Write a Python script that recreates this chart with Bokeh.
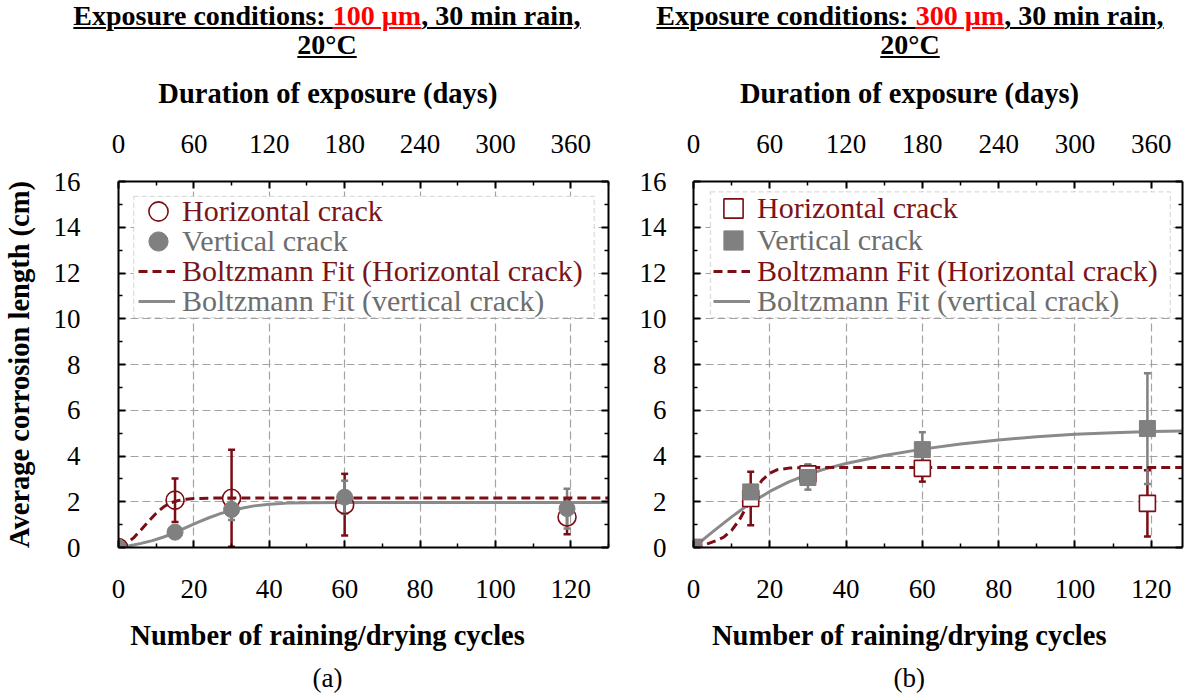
from bokeh.plotting import figure
from bokeh.models import (Range1d, LinearAxis, FixedTicker, Legend, LegendItem, Title,
                          Whisker, TeeHead, ColumnDataSource, BoxAnnotation, Div,
                          CustomJSTickFormatter)
from bokeh.layouts import row, column
from bokeh.embed import file_html
from bokeh.resources import INLINE

# ---------------- data ----------------
cycles = [0, 15, 30, 60, 119]

# (a) 100 µm
h_mean_a = [0.0, 2.07, 2.15, 1.87, 1.33]
h_err_a = [0.0, 0.95, 2.12, 1.35, 0.75]
v_mean_a = [0.0, 0.67, 1.66, 2.2, 1.7]
v_err_a = [0.0, 0.1, 0.46, 0.72, 0.87]

fit_h_x_a = [0, 2, 4, 6, 8, 10, 12, 14, 16, 18, 20, 25, 30, 130]
fit_h_y_a = [0.05, 0.17, 0.42, 0.78, 1.15, 1.5, 1.78, 1.96, 2.06, 2.11, 2.14, 2.16, 2.16, 2.16]
fit_v_x_a = [0, 3, 6, 9, 12, 15, 18, 21, 24, 27, 30, 33, 36, 40, 45, 50, 60, 130]
fit_v_y_a = [0.0, 0.08, 0.18, 0.3, 0.46, 0.65, 0.88, 1.1, 1.3, 1.48, 1.62, 1.73, 1.82, 1.89, 1.94, 1.96, 1.97, 1.97]

# (b) 300 µm
h_mean_b = [0.0, 2.14, 3.22, 3.46, 1.93]
h_err_b = [0.0, 1.17, 0.4, 0.58, 1.45]
v_mean_b = [0.0, 2.43, 3.06, 4.28, 5.2]
v_err_b = [0.0, 0.3, 0.53, 0.76, 2.42]

fit_h_x_b = [0, 2, 4, 6, 8, 10, 12, 14, 16, 18, 20, 22, 25, 30, 130]
fit_h_y_b = [0.0, 0.08, 0.18, 0.3, 0.46, 0.75, 1.2, 1.8, 2.45, 2.95, 3.25, 3.4, 3.47, 3.5, 3.5]
fit_v_x_b = [0, 5, 10, 15, 20, 25, 30, 35, 40, 50, 60, 70, 80, 90, 100, 110, 120, 130]
fit_v_y_b = [0.0, 0.68, 1.34, 1.95, 2.45, 2.87, 3.2, 3.46, 3.67, 4.02, 4.3, 4.52, 4.7, 4.84, 4.95, 5.02, 5.07, 5.1]

# ticks
x_ticks = [0, 20, 40, 60, 80, 100, 120]
x_minor_ticks = [10, 30, 50, 70, 90, 110, 130]
day_ticks = [0, 60, 120, 180, 240, 300, 360]
day_minor_ticks = [30, 90, 150, 210, 270, 330, 390]
y_ticks = [0, 2, 4, 6, 8, 10, 12, 14, 16]
y_minor_ticks = [1, 3, 5, 7, 9, 11, 13, 15]
days_per_cycle = 3

# texts
title_a = ["Exposure conditions: ", "100 µm", ", 30 min rain,", "20°C"]
title_b = ["Exposure conditions: ", "300 µm", ", 30 min rain,", "20°C"]
x_title = "Number of raining/drying cycles"
top_title = "Duration of exposure (days)"
y_title = "Average corrosion length (cm)"
legend_labels = ["Horizontal crack", "Vertical crack",
                 "Boltzmann Fit (Horizontal crack)", "Boltzmann Fit (vertical crack)"]
captions = ["(a)", "(b)"]

# ---------------- styles ----------------
FONT = "Liberation Serif"
RED = "#7b0d14"
RED_TXT = "#7a1418"
GREY = "#808080"
GREY_LINE = "#8a8a8a"
GREY_TXT = "#6e6e6e"
GRID = "#a3a3a3"
NBSP = "\u00a0"

DIV_H = 62
FIG_H = 637
MB_TOP = 119
MB_BOTTOM = 152
FRAME_H = 366


def style_axis(ax, ticker, standoff, labels=True):
    ax.ticker = ticker
    ax.axis_line_width = 2
    ax.axis_line_color = "black"
    ax.major_tick_in = 7
    ax.major_tick_out = 0
    ax.minor_tick_in = 4
    ax.minor_tick_out = 0
    ax.major_tick_line_width = 2
    ax.minor_tick_line_width = 1.5
    ax.major_tick_line_color = "black"
    ax.minor_tick_line_color = "black"
    ax.major_label_text_font = FONT
    ax.major_label_text_font_size = "27px"
    ax.major_label_text_color = "black"
    ax.major_label_standoff = standoff
    ax.axis_label_text_font = FONT
    ax.axis_label_text_font_style = "bold"
    ax.axis_label_text_font_size = "28.5px"
    ax.axis_label_text_color = "black"
    if not labels:
        ax.formatter = CustomJSTickFormatter(code="return ''")
        ax.major_label_standoff = 0


def build_panel(cfg):
    x_end = cfg["x_end"]
    p = figure(width=cfg["width"], height=FIG_H,
               x_range=Range1d(0, x_end), y_range=Range1d(0, 16),
               output_backend="svg", toolbar_location=None,
               min_border_left=cfg["mbl"], min_border_right=cfg["mbr"],
               min_border_top=MB_TOP, min_border_bottom=MB_BOTTOM,
               outline_line_color=None, background_fill_color="white",
               border_fill_color="white")
    p.extra_x_ranges = {"days": Range1d(0, x_end * days_per_cycle)}

    xt = FixedTicker(ticks=x_ticks, minor_ticks=x_minor_ticks)
    yt = FixedTicker(ticks=y_ticks, minor_ticks=y_minor_ticks)
    dt = FixedTicker(ticks=day_ticks, minor_ticks=day_minor_ticks)

    bottom = p.xaxis[0]
    style_axis(bottom, xt, 32)
    bottom.axis_label = x_title + NBSP * cfg["nbsp"]
    bottom.axis_label_standoff = 19
    left = p.yaxis[0]
    style_axis(left, yt, cfg["ylab_standoff"])
    if cfg["show_ytitle"]:
        left.axis_label = y_title
        left.axis_label_standoff = 16
    top = LinearAxis(x_range_name="days")
    style_axis(top, dt, 29)
    top.axis_label = top_title + NBSP * cfg["nbsp"]
    top.axis_label_standoff = 23
    p.add_layout(top, "above")
    right = LinearAxis()
    style_axis(right, FixedTicker(ticks=y_ticks, minor_ticks=y_minor_ticks), 0, labels=False)
    p.add_layout(right, "right")

    p.add_layout(Title(text=cfg["caption"], align="left", offset=cfg["cap_offset"],
                       text_font=FONT, text_font_size="27px", text_font_style="normal",
                       text_color="black", standoff=14), "below")

    for g, t in ((p.xgrid[0], x_ticks), (p.ygrid[0], y_ticks)):
        g.ticker = FixedTicker(ticks=t)
        g.grid_line_color = GRID
        g.grid_line_dash = "8 4"
        g.grid_line_width = 1.2

    h_mean, h_err, v_mean, v_err = cfg["h_mean"], cfg["h_err"], cfg["v_mean"], cfg["v_err"]
    src_h = ColumnDataSource(dict(x=cycles, y=h_mean))
    src_v = ColumnDataSource(dict(x=cycles, y=v_mean))
    eh = [(c, m - e, m + e) for c, m, e in zip(cycles, h_mean, h_err) if e > 0]
    ev = [(c, m - e, m + e) for c, m, e in zip(cycles, v_mean, v_err) if e > 0]
    src_eh = ColumnDataSource(dict(x=[a for a, _, _ in eh], lo=[b for _, b, _ in eh], hi=[c for _, _, c in eh]))
    src_ev = ColumnDataSource(dict(x=[a for a, _, _ in ev], lo=[b for _, b, _ in ev], hi=[c for _, _, c in ev]))

    for src, col in ((src_eh, RED), (src_ev, GREY)):
        w = Whisker(source=src, base="x", lower="lo", upper="hi",
                    line_color=col, line_width=2.5,
                    upper_head=TeeHead(size=7, line_color=col, line_width=2.5),
                    lower_head=TeeHead(size=7, line_color=col, line_width=2.5))
        p.add_layout(w)

    r_fit_v = p.line(cfg["fit_v_x"], cfg["fit_v_y"], line_color=GREY_LINE, line_width=3)
    r_fit_h = p.line(cfg["fit_h_x"], cfg["fit_h_y"], line_color=RED, line_width=3, line_dash="9 5")
    r_h = p.scatter("x", "y", source=src_h, marker=cfg["marker"], size=cfg["h_size"],
                    fill_color="white", fill_alpha=cfg["h_fill_alpha"],
                    line_color=RED, line_width=1.6)
    r_v = p.scatter("x", "y", source=src_v, marker=cfg["marker"], size=cfg["v_size"],
                    fill_color=GREY, line_color=GREY, line_width=1)

    # legend frame
    bx = cfg["box"]
    p.add_layout(BoxAnnotation(left=bx[0], right=bx[1], top=bx[2], bottom=bx[3],
                               fill_color="white", fill_alpha=1,
                               line_color="#8c8c8c", line_dash="5 3", line_width=1.3))

    entries = [(legend_labels[0], r_h, RED_TXT, "marker"),
               (legend_labels[1], r_v, GREY_TXT, "marker"),
               (legend_labels[2], r_fit_h, RED_TXT, "line"),
               (legend_labels[3], r_fit_v, GREY_TXT, "line")]
    for (lab, rend, col, kind), row_off in zip(entries, cfg["legend_rows"]):
        if kind == "marker":
            gw, gh, vx, st = 48, 48, 16, 0
        else:
            gw, gh, vx, st = 37, 34, 20, 7
        vy = FRAME_H - row_off - gh / 2
        lg = Legend(items=[LegendItem(label=lab, renderers=[rend])],
                    location=(vx, vy), border_line_color=None,
                    background_fill_alpha=0, padding=0, margin=0, spacing=0,
                    glyph_width=gw, glyph_height=gh, label_height=gh,
                    label_standoff=st, label_text_font=FONT,
                    label_text_font_size="30px", label_text_color=col)
        p.add_layout(lg)
    return p


pa = build_panel(dict(width=620, mbl=118, mbr=12, x_end=130, ylab_standoff=38,
                      marker="circle", h_size=18, v_size=16, h_fill_alpha=0.0,
                      h_mean=h_mean_a, h_err=h_err_a, v_mean=v_mean_a, v_err=v_err_a,
                      fit_h_x=fit_h_x_a, fit_h_y=fit_h_y_a, fit_v_x=fit_v_x_a, fit_v_y=fit_v_y_a,
                      box=(4.05, 126.2, 15.35, 10.05), legend_rows=[30, 60, 90, 120],
                      nbsp=10, cap_offset=194, caption=captions[0], show_ytitle=True))
pb = build_panel(dict(width=566, mbl=73, mbr=4, x_end=128.2, ylab_standoff=27,
                      marker="square", h_size=16, v_size=16, h_fill_alpha=1.0,
                      h_mean=h_mean_b, h_err=h_err_b, v_mean=v_mean_b, v_err=v_err_b,
                      fit_h_x=fit_h_x_b, fit_h_y=fit_h_y_b, fit_v_x=fit_v_x_b, fit_v_y=fit_v_y_b,
                      box=(4.45, 125.0, 15.55, 10.05), legend_rows=[27, 58.5, 90, 120],
                      nbsp=8, cap_offset=200, caption=captions[1], show_ytitle=False))


def title_html(cx, parts):
    pre, red, post, line2 = parts
    base = ("position:absolute;transform:translateX(-50%);white-space:nowrap;"
            "line-height:31px;text-decoration:underline;text-decoration-thickness:2px;"
            "text-underline-offset:2px;")
    return (f'<div style="{base}left:{cx}px;top:0px">{pre}'
            f'<span style="color:#ff0000;text-decoration:underline;text-decoration-thickness:2px;'
            f'text-underline-offset:2px">{red}</span>{post}</div>'
            f'<div style="{base}left:{cx}px;top:29px">{line2}</div>')


html = (f'<div style="position:relative;width:1186px;height:{DIV_H}px;font-family:\'{FONT}\';'
        f'font-weight:bold;font-size:28px;color:#000">'
        + title_html(327, title_a) + title_html(910, title_b) + '</div>')
header = Div(text=html, width=1186, height=DIV_H, margin=(0, 0, 0, 0))

layout = column(header, row(pa, pb))
open("out.html", "w").write(file_html(layout, INLINE))
